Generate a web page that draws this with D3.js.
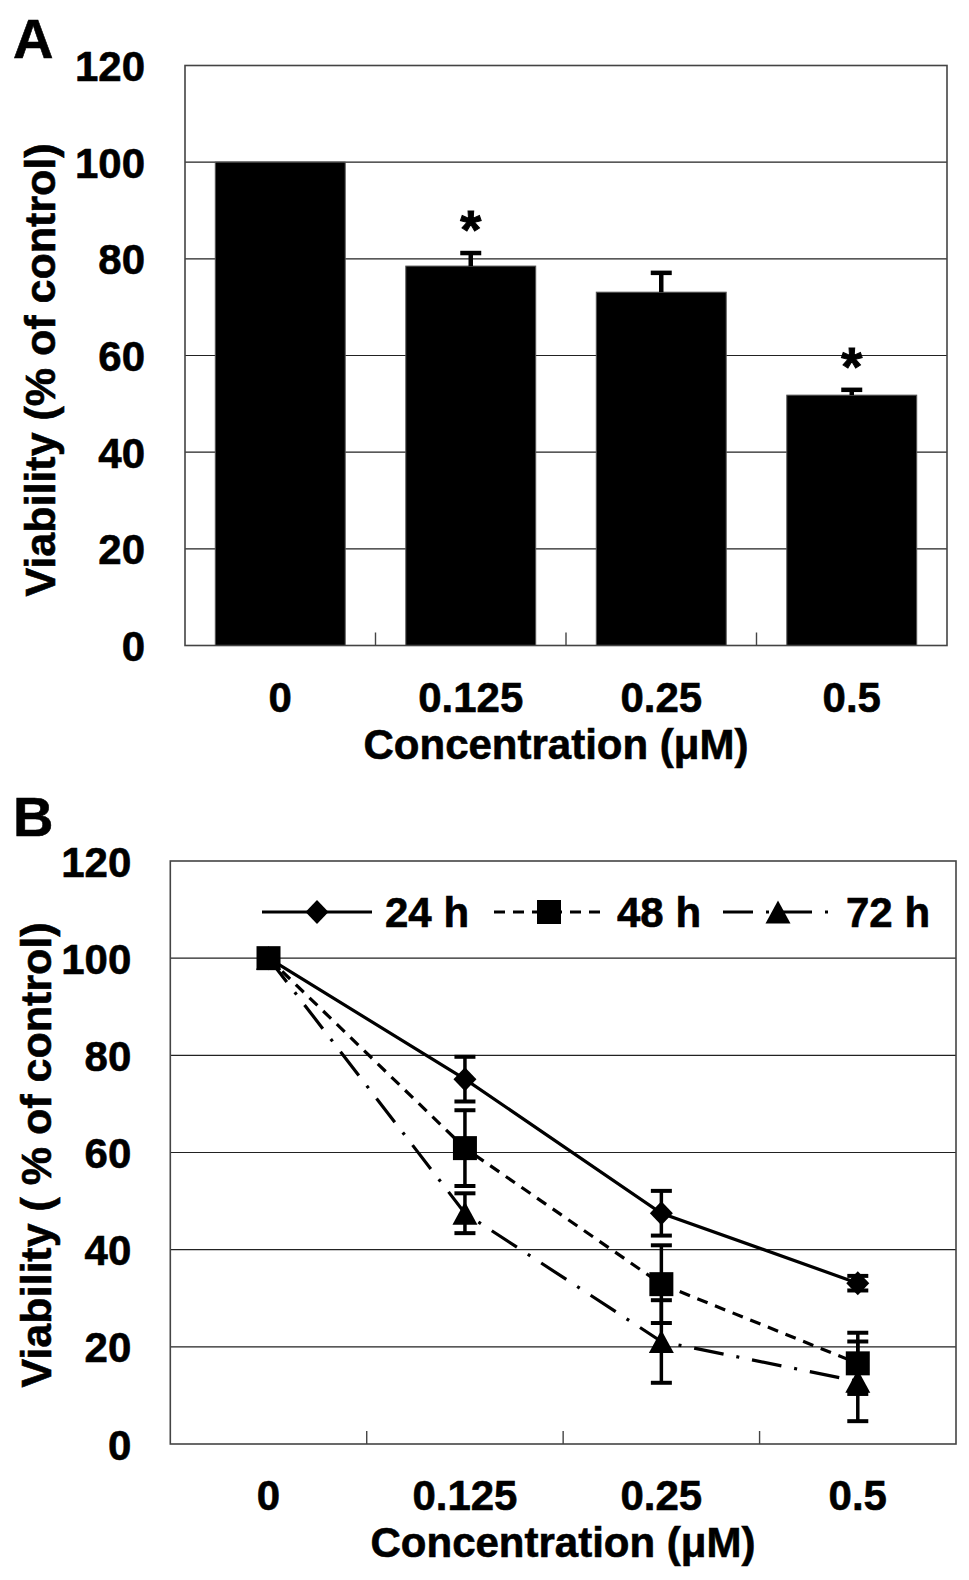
<!DOCTYPE html>
<html>
<head>
<meta charset="utf-8">
<script src="https://cdn.jsdelivr.net/npm/d3@7"></script>
<style>
  html, body { margin: 0; padding: 0; background: #fff; }
  svg text { font-family: "Liberation Sans", Arial, sans-serif; font-weight: bold; fill: #000; stroke: #000; stroke-width: 0.6px; }
</style>
</head>
<body>
<svg id="chart" width="969" height="1580"></svg>
<script>
// ---------- data ----------
const categories = ["0", "0.125", "0.25", "0.5"];
const yTickValues = [0, 20, 40, 60, 80, 100, 120];

// Panel A (bar chart)
const barValues = [100, 78.5, 73.1, 51.8];
const barErrors = [0, 2.7, 4.0, 1.1];
const barSignificant = [false, true, false, true];

// Panel B (line chart)
const seriesNames = ["24 h", "48 h", "72 h"];
const values24 = [100, 75.1, 47.5, 33.1];
const errors24 = [0, 4.6, 4.6, 1.5];
const values48 = [100, 60.9, 32.9, 16.6];
const errors48 = [0, 7.8, 8.0, 6.3];
const values72 = [100, 47.5, 21.1, 12.9];
const errors72 = [0, 4.1, 8.5, 8.2];

const yTitleA = "Viability (% of control)";
const yTitleB = "Viability ( % of control)";
const xTitle = "Concentration (\u03bcM)";

// ---------- drawing ----------
const svg = d3.select("#chart");
const FS = 42;

function frame(g, x0, x1, y) {
  g.append("g").selectAll("line")
    .data(yTickValues.filter(d => d > 0 && d < 120))
    .join("line")
    .attr("x1", x0).attr("x2", x1)
    .attr("y1", d => y(d)).attr("y2", d => y(d))
    .attr("stroke", "#222").attr("stroke-width", 1.2);
}
function border(g, x0, x1, y, bounds) {
  g.append("rect")
    .attr("x", x0).attr("y", y(120))
    .attr("width", x1 - x0).attr("height", y(0) - y(120))
    .attr("fill", "none").attr("stroke", "#444").attr("stroke-width", 1.6);
  g.append("g").selectAll("line").data(bounds).join("line")
    .attr("x1", d => d).attr("x2", d => d)
    .attr("y1", y(0)).attr("y2", y(0) - 13)
    .attr("stroke", "#444").attr("stroke-width", 1.4);
}
function yAxis(g, xPos, pad, y) {
  const ax = d3.axisLeft(y).tickValues(yTickValues).tickSize(0).tickPadding(pad).tickFormat(d3.format("d"));
  const a = g.append("g").attr("transform", `translate(${xPos},0)`).call(ax);
  a.select(".domain").remove();
  a.selectAll("text").attr("font-size", FS).attr("dy", "0.36em")
    .style("font-family", "'Liberation Sans', Arial, sans-serif").style("font-weight", "bold")
    .attr("fill", "#000").style("stroke", "#000").style("stroke-width", "0.6px");
}
function xLabels(g, yBase, center) {
  g.append("g").selectAll("text").data(categories).join("text")
    .attr("x", d => center(d)).attr("y", yBase)
    .attr("text-anchor", "middle").attr("font-size", FS).text(d => d);
}

// ===== Panel A =====
const gA = svg.append("g");
const xA = d3.scaleBand().domain(categories).range([185, 947]).paddingInner(0.318).paddingOuter(0.159);
const yA = d3.scaleLinear().domain([0, 120]).range([645.5, 65.5]);
frame(gA, 185, 947, yA);

gA.append("g").selectAll("rect").data(barValues).join("rect")
  .attr("x", (d, i) => xA(categories[i]))
  .attr("y", d => yA(d))
  .attr("width", xA.bandwidth())
  .attr("height", d => yA(0) - yA(d))
  .attr("fill", "#000").attr("stroke", "#555").attr("stroke-width", 1);

const errA = gA.append("g");
barValues.forEach((v, i) => {
  if (!barErrors[i]) return;
  const cx = xA(categories[i]) + xA.bandwidth() / 2;
  errA.append("line").attr("x1", cx).attr("x2", cx)
    .attr("y1", yA(v)).attr("y2", yA(v + barErrors[i]))
    .attr("stroke", "#000").attr("stroke-width", 4.5);
  errA.append("line").attr("x1", cx - 10.5).attr("x2", cx + 10.5)
    .attr("y1", yA(v + barErrors[i])).attr("y2", yA(v + barErrors[i]))
    .attr("stroke", "#000").attr("stroke-width", 4.5);
  if (barSignificant[i]) {
    gA.append("text").attr("x", cx).attr("y", yA(v + barErrors[i]) - 5)
      .attr("text-anchor", "middle").attr("font-size", 54).style("stroke-width", "1px").text("*");
  }
});
border(gA, 185, 947, yA, categories.slice(1).map(c => xA(c) - xA.step() * xA.paddingInner() / 2));
yAxis(gA, 185, 40, yA);
xLabels(gA, 712, c => xA(c) + xA.bandwidth() / 2);
gA.append("text").attr("x", 556).attr("y", 759).attr("text-anchor", "middle").attr("font-size", FS).text(xTitle);
gA.append("text").attr("transform", "translate(55,370) rotate(-90)").attr("text-anchor", "middle")
  .attr("font-size", 43).text(yTitleA);
gA.append("text").attr("x", 13).attr("y", 58).attr("font-size", 56).text("A");

// ===== Panel B =====
const gB = svg.append("g");
const xB = d3.scalePoint().domain(categories).range([170.3, 956]).padding(0.5);
const yB = d3.scaleLinear().domain([0, 120]).range([1444, 861]);
frame(gB, 170.3, 956, yB);

const seriesData = [
  { name: seriesNames[0], values: values24, errors: errors24, dash: null, marker: "diamond" },
  { name: seriesNames[1], values: values48, errors: errors48, dash: "11,8", marker: "square" },
  { name: seriesNames[2], values: values72, errors: errors72, dash: "30,13,3,13", marker: "triangle" }
];

function markerPath(type) {
  if (type === "diamond") return "M0,-12L11.5,0L0,12L-11.5,0Z";
  if (type === "square") return "M-12,-12H12V12H-12Z";
  return "M0,-11.5L12.5,11.5H-12.5Z";
}

const line = d3.line().x((d, i) => xB(categories[i])).y(d => yB(d));
seriesData.forEach(s => {
  gB.append("path").datum(s.values).attr("d", line)
    .attr("fill", "none").attr("stroke", "#000").attr("stroke-width", 3.2)
    .attr("stroke-dasharray", s.dash);
});
seriesData.forEach(s => {
  s.values.forEach((v, i) => {
    const e = s.errors[i];
    if (!e) return;
    const cx = xB(categories[i]);
    gB.append("line").attr("x1", cx).attr("x2", cx)
      .attr("y1", yB(v - e)).attr("y2", yB(v + e))
      .attr("stroke", "#000").attr("stroke-width", 3.5);
    [v - e, v + e].forEach(t => {
      gB.append("line").attr("x1", cx - 10.5).attr("x2", cx + 10.5)
        .attr("y1", yB(t)).attr("y2", yB(t))
        .attr("stroke", "#000").attr("stroke-width", 4);
    });
  });
});
[seriesData[0], seriesData[2], seriesData[1]].forEach(s => {
  gB.append("g").selectAll("path").data(s.values).join("path")
    .attr("transform", (d, i) => `translate(${xB(categories[i])},${yB(d)})`)
    .attr("d", markerPath(s.marker)).attr("fill", "#000");
});

border(gB, 170.3, 956, yB, categories.slice(1).map(c => xB(c) - xB.step() / 2));
yAxis(gB, 170.3, 39, yB);
xLabels(gB, 1510, c => xB(c));
gB.append("text").attr("x", 563).attr("y", 1557).attr("text-anchor", "middle").attr("font-size", FS).text(xTitle);
gB.append("text").attr("transform", "translate(51,1155) rotate(-90)").attr("text-anchor", "middle")
  .attr("font-size", 43).text(yTitleB);
gB.append("text").attr("x", 13).attr("y", 836).attr("font-size", 56).text("B");

const legendX = [262, 494, 723];
const legendY = 912;
seriesData.forEach((s, i) => {
  const lg = gB.append("g").attr("transform", `translate(${legendX[i]},${legendY})`);
  lg.append("line").attr("x1", 0).attr("x2", 110).attr("y1", 0).attr("y2", 0)
    .attr("stroke", "#000").attr("stroke-width", 3.2).attr("stroke-dasharray", s.dash);
  lg.append("path").attr("transform", "translate(55,0)").attr("d", markerPath(s.marker)).attr("fill", "#000");
  lg.append("text").attr("x", 123).attr("y", 15).attr("font-size", FS).text(s.name);
});
</script>
</body>
</html>
